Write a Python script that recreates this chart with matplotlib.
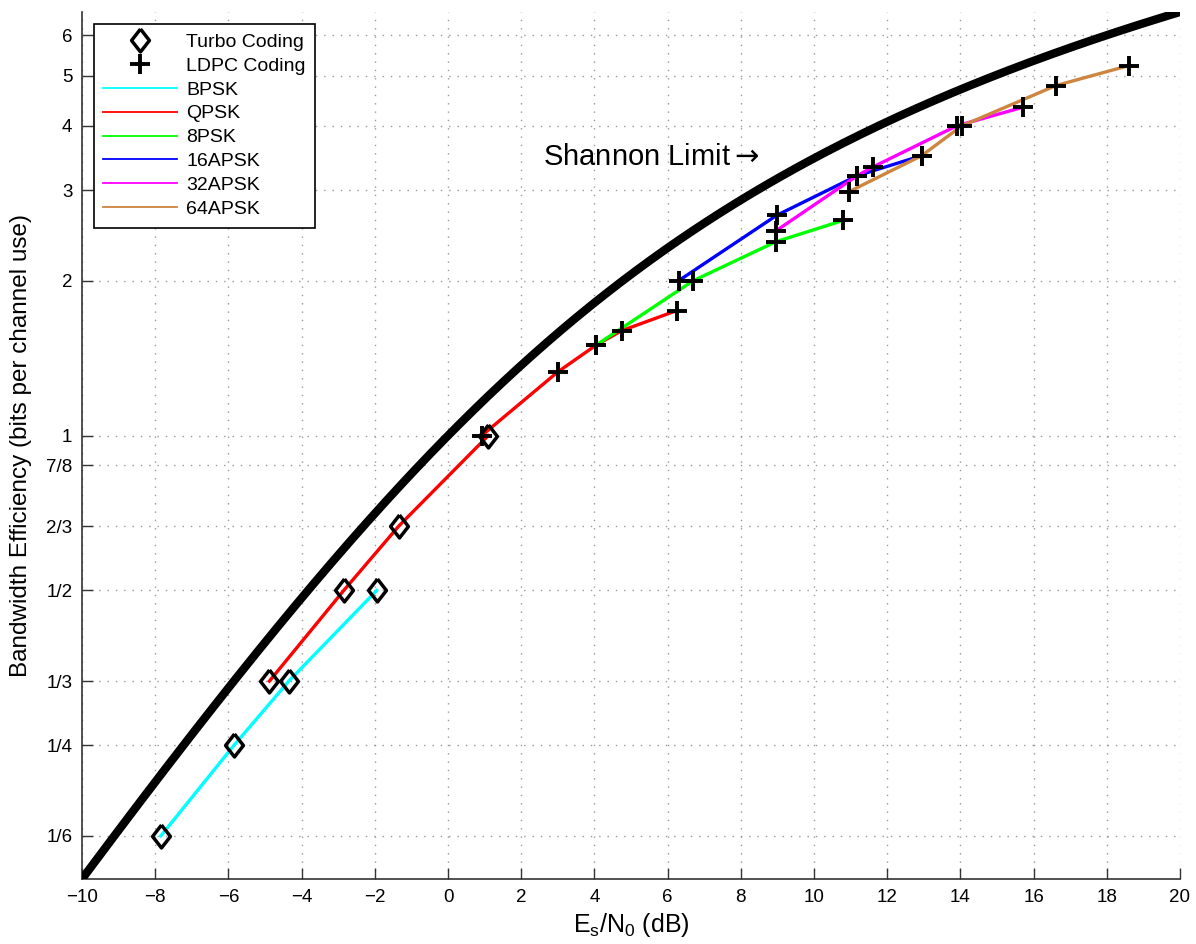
import matplotlib
matplotlib.use('Agg')
import matplotlib.pyplot as plt
import numpy as np
from matplotlib.lines import Line2D
from matplotlib.ticker import FixedLocator, FixedFormatter, NullLocator

plt.rcParams['font.family'] = ['Liberation Sans', 'DejaVu Sans']

# Es/N0 grid for the capacity curve (dB)
snr_db = np.linspace(-10, 20, 301)
shannon = np.log2(1 + 10 ** (snr_db / 10))

# turbo coded results
bpsk_turbo_x = [-7.85, -5.85, -4.35, -1.95]
bpsk_turbo_y = [1/6, 1/4, 1/3, 1/2]
qpsk_turbo_x = [-4.88, -2.85, -1.35, 1.1]
qpsk_turbo_y = [1/3, 1/2, 2/3, 1]

# LDPC coded results
qpsk_ldpc_x = [0.92, 3.0, 4.05, 4.75, 6.25]
qpsk_ldpc_y = [1.0, 1.33, 1.5, 1.6, 1.75]
psk8_ldpc_x = [4.05, 6.7, 8.95, 10.8]
psk8_ldpc_y = [1.5, 2.0, 2.38, 2.62]
apsk16_ldpc_x = [6.3, 8.98, 11.18, 12.94]
apsk16_ldpc_y = [2.0, 2.68, 3.2, 3.5]
apsk32_ldpc_x = [8.96, 11.18, 11.62, 13.9, 15.72]
apsk32_ldpc_y = [2.5, 3.2, 3.33, 4.0, 4.35]
apsk64_ldpc_x = [10.96, 12.94, 14.04, 16.61, 18.61]
apsk64_ldpc_y = [2.98, 3.5, 4.0, 4.79, 5.24]

ytick_vals = [1/6, 1/4, 1/3, 1/2, 2/3, 7/8, 1, 2, 3, 4, 5, 6]
ytick_labels = ['1/6', '1/4', '1/3', '1/2', '2/3', '7/8', '1', '2', '3', '4', '5', '6']

mod_names = ['BPSK', 'QPSK', '8PSK', '16APSK', '32APSK', '64APSK']
mod_colors = ['#00FFFF', '#FF0000', '#00FF00', '#0000FF', '#FF00FF', '#CD853F']

diamond = [(0, 1), (0.78, 0), (0, -1), (-0.78, 0), (0, 1)]

fig = plt.figure(figsize=(11.96, 9.44), dpi=100)
ax = fig.add_axes([0.0686, 0.0689, 0.918, 0.9184])

ax.plot(snr_db, shannon, color='k', lw=6, zorder=3)

turbo = [(bpsk_turbo_x, bpsk_turbo_y, mod_colors[0]),
         (qpsk_turbo_x, qpsk_turbo_y, mod_colors[1])]
ldpc = [(qpsk_ldpc_x, qpsk_ldpc_y, mod_colors[1]),
        (psk8_ldpc_x, psk8_ldpc_y, mod_colors[2]),
        (apsk16_ldpc_x, apsk16_ldpc_y, mod_colors[3]),
        (apsk32_ldpc_x, apsk32_ldpc_y, mod_colors[4]),
        (apsk64_ldpc_x, apsk64_ldpc_y, mod_colors[5])]

for xs, ys, c in turbo + ldpc:
    ax.plot(xs, ys, color=c, lw=2.4, zorder=4)
for xs, ys, c in turbo:
    ax.plot(xs, ys, ls='none', marker=diamond, ms=16.5, mfc='none',
            mec='k', mew=2.5, zorder=5)
for xs, ys, c in ldpc:
    ax.plot(xs, ys, ls='none', marker='+', ms=14, mec='k', mew=2.8, zorder=5)

ax.text(2.6, 3.48, r'Shannon Limit$\rightarrow$', fontsize=21,
        ha='left', va='center')

ax.set_yscale('log')
ax.set_xlim(-10, 20)
ax.set_ylim(shannon[0], shannon[-1])
ax.set_xticks(np.arange(-10, 21, 2))
ax.yaxis.set_major_locator(FixedLocator(ytick_vals))
ax.yaxis.set_major_formatter(FixedFormatter(ytick_labels))
ax.yaxis.set_minor_locator(NullLocator())

ax.grid(True, color='0.6', ls=(0, (1, 5)), lw=1.0)
ax.spines['top'].set_visible(False)
ax.spines['right'].set_visible(False)
for s in ['left', 'bottom']:
    ax.spines[s].set_color('0.2')
    ax.spines[s].set_linewidth(1.2)
ax.tick_params(direction='in', length=8, width=1, labelsize=13.5, pad=7,
               colors='0.2', labelcolor='k')

ax.set_xlabel(r'E$_\mathregular{s}$/N$_\mathregular{0}$ (dB)', fontsize=18,
              labelpad=4)
ax.set_ylabel('Bandwidth Efficiency (bits per channel use)', fontsize=17.5,
              labelpad=10)

handles = [Line2D([], [], ls='none', marker=diamond, ms=16.5, mfc='none',
                  mec='k', mew=2.5, label='Turbo Coding'),
           Line2D([], [], ls='none', marker='+', ms=14, mec='k', mew=2.8,
                  label='LDPC Coding')]
for name, c in zip(mod_names, mod_colors):
    handles.append(Line2D([], [], color=c, lw=1.3, label=name))

leg = ax.legend(handles=handles, loc='upper left', fontsize=14,
                handlelength=3.8, handletextpad=0.45, labelspacing=0.32,
                borderaxespad=0.6, borderpad=0.5, fancybox=False,
                edgecolor='k', framealpha=1)
leg.get_frame().set_linewidth(1.2)

fig.savefig('out.png', dpi=100)
